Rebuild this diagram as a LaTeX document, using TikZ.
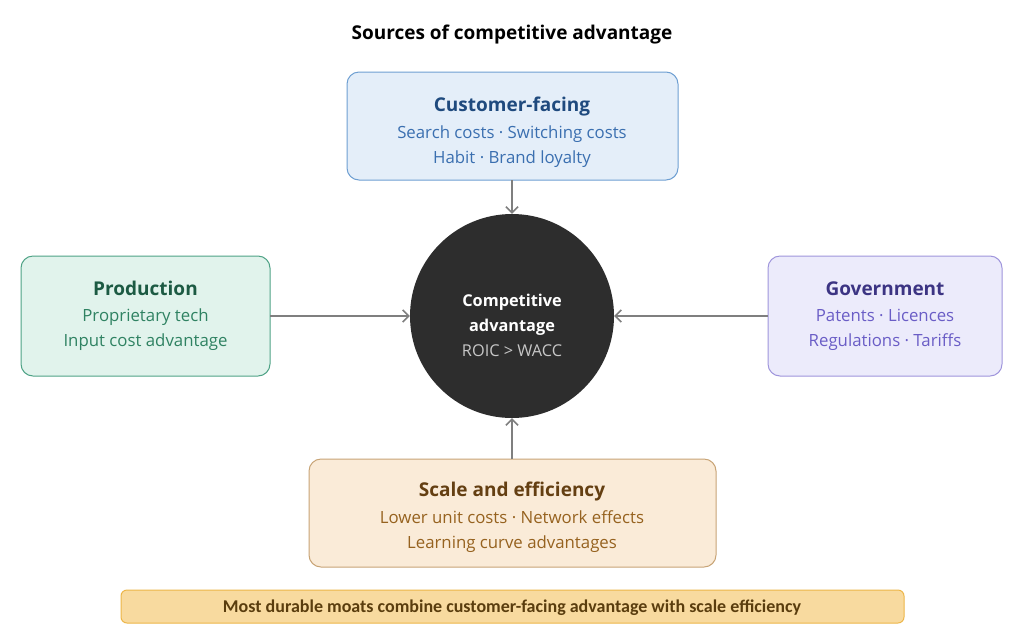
\documentclass[tikz,border=0pt]{standalone}
\usepackage{fontspec}
\setmainfont{Open Sans}
\newfontfamily\bannerfont{Carlito}
\usetikzlibrary{arrows.meta}
\definecolor{arrowgray}{HTML}{7F7F7F}
\definecolor{bluefill}{HTML}{E4EEF9}
\definecolor{bluedraw}{HTML}{6E9FD2}
\definecolor{bluehead}{HTML}{1F4A7E}
\definecolor{bluetext}{HTML}{3A6FB0}
\definecolor{greenfill}{HTML}{E1F3EC}
\definecolor{greendraw}{HTML}{4FA386}
\definecolor{greenhead}{HTML}{1C5A43}
\definecolor{greentext}{HTML}{2F8262}
\definecolor{purpfill}{HTML}{ECEBFB}
\definecolor{purpdraw}{HTML}{9F95DC}
\definecolor{purphead}{HTML}{3C3483}
\definecolor{purptext}{HTML}{6A5DC6}
\definecolor{tanfill}{HTML}{FAEBD8}
\definecolor{tandraw}{HTML}{C8A476}
\definecolor{tanhead}{HTML}{643F12}
\definecolor{tantext}{HTML}{96621F}
\definecolor{bannerfill}{HTML}{F8DA9F}
\definecolor{bannerdraw}{HTML}{EDB648}
\definecolor{bannertext}{HTML}{5A3D0E}
\definecolor{circfill}{HTML}{2D2D2D}
\tikzset{
  x=1pt, y=-1pt,
  card/.style={draw, line width=1pt, rounded corners=12pt, inner sep=0pt},
  conn/.style={draw=arrowgray, line width=1.8pt, -{Straight Barb[length=6pt,width=12pt,line width=1.6pt]}},
  head/.style={font=\fontsize{19}{23}\selectfont\bfseries, anchor=base},
  body/.style={font=\fontsize{16.8}{20}\selectfont, anchor=base},
  ctext/.style={font=\fontsize{16.3}{20}\selectfont, anchor=base},
}
\begin{document}
\begin{tikzpicture}
\useasboundingbox (0,0) rectangle (1024,638);
\fill[white] (0,0) rectangle (1024,638);
% title
\node[font=\fontsize{19}{23}\selectfont\bfseries, anchor=base] (title) at (512,39) {Sources of competitive advantage};
% customer-facing
\draw[card, fill=bluefill, draw=bluedraw] (347,72) rectangle (678,180);
\coordinate (cfB) at (512,180);
\node[head, text=bluehead] (cfH) at (512,111) {Customer-facing};
\node[body, text=bluetext] (cf1) at (512,138) {Search costs · Switching costs};
\node[body, text=bluetext] (cf2) at (512,163) {Habit · Brand loyalty};
% production
\draw[card, fill=greenfill, draw=greendraw] (21,256) rectangle (270,376);
\coordinate (prR) at (270,316);
\node[head, text=greenhead] (prH) at (145.5,295) {Production};
\node[body, text=greentext] (pr1) at (145.5,321) {Proprietary tech};
\node[body, text=greentext] (pr2) at (145.5,346) {Input cost advantage};
% government
\draw[card, fill=purpfill, draw=purpdraw] (768,256) rectangle (1002,376);
\coordinate (gvL) at (768,316);
\node[head, text=purphead] (gvH) at (885,295) {Government};
\node[body, text=purptext] (gv1) at (885,321) {Patents · Licences};
\node[body, text=purptext] (gv2) at (885,346) {Regulations · Tariffs};
% scale
\draw[card, fill=tanfill, draw=tandraw] (309,459) rectangle (716,567);
\coordinate (scT) at (512,459);
\node[head, text=tanhead] (scH) at (512,496) {Scale and efficiency};
\node[body, text=tantext] (sc1) at (512,523) {Lower unit costs · Network effects};
\node[body, text=tantext] (sc2) at (512,548) {Learning curve advantages};
% center circle
\node[circle, fill=circfill, minimum size=204pt, inner sep=0pt] (core) at (512,316) {};
\node[ctext, font=\fontsize{16.3}{20}\selectfont\bfseries, text=white] (c1) at (512,306) {Competitive};
\node[ctext, font=\fontsize{16.3}{20}\selectfont\bfseries, text=white] (c2) at (512,331) {advantage};
\node[ctext, text=black!22] (c3) at (512,356) {ROIC > WACC};
% connectors
\draw[conn] (cfB) -- (core.north);
\draw[conn] (prR) -- (core.west);
\draw[conn] (gvL) -- (core.east);
\draw[conn] (scT) -- (core.south);
% banner
\draw[fill=bannerfill, draw=bannerdraw, line width=1pt, rounded corners=6pt] (121,590) rectangle (904,623);
\node[font=\bannerfont\fontsize{18}{21}\selectfont\bfseries, text=bannertext, anchor=base] (ban) at (512,612) {Most durable moats combine customer-facing advantage with scale efficiency};
\end{tikzpicture}
\end{document}
